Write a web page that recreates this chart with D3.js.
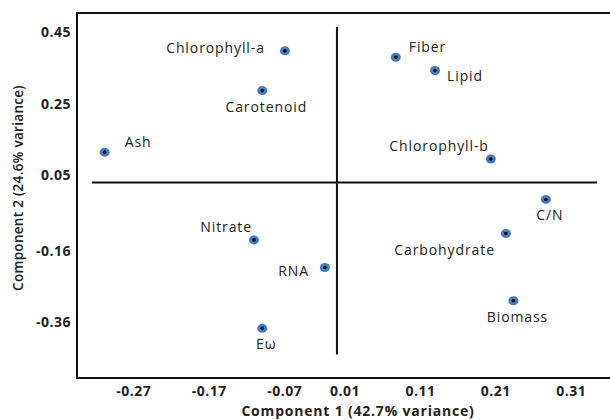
<!DOCTYPE html>
<html>
<head>
<meta charset="utf-8">
<script src="https://cdn.jsdelivr.net/npm/d3@7"></script>
<style>
  html, body { margin: 0; padding: 0; background: #fff; }
  svg { display: block; }
  text { font-family: "Open Sans", "DejaVu Sans", sans-serif; fill: #222; }
</style>
</head>
<body>
<svg id="chart" width="610" height="420"></svg>
<script>
// ---- data ----
const names = ["Chlorophyll-a", "Carotenoid", "Ash", "Fiber", "Lipid", "Chlorophyll-b",
               "C/N", "Nitrate", "E\u03C9", "RNA", "Carbohydrate", "Biomass"];
const pc1 = [-0.069, -0.099, -0.308, 0.078, 0.130, 0.204, 0.277, -0.110, -0.099, -0.016, 0.224, 0.234];
const pc2 = [0.398, 0.287, 0.115, 0.380, 0.343, 0.096, -0.017, -0.130, -0.377, -0.207, -0.112, -0.300];
// label placement keys (see "off" below)
const labelPos = ["l", "b", "ar", "a", "r", "al", "b", "al", "b", "lb", "bl", "b"];
const xTicks = [-0.27, -0.17, -0.07, 0.01, 0.11, 0.21, 0.31];
const yTicks = [0.45, 0.25, 0.05, -0.16, -0.36];
const xTitle = "Component 1 (42.7% variance)";
const yTitle = "Component 2  (24.6% variance)";
const crossX = 0.0;   // vertical reference line
const crossY = 0.03;  // horizontal reference line
const crossXExtent = [-0.325, 0.345];
const crossYExtent = [0.465, -0.45];

// ---- layout ----
const svg = d3.select("#chart");
const box = { left: 77, top: 13, right: 612, bottom: 378 };

const x = d3.scaleLinear().domain([0, 0.1]).range([336.95, 336.95 + 75.43]);
const y = d3.scaleLinear().domain([0, 0.1]).range([193.35, 193.35 - 35.81]);
const fmt = d => d.toFixed(2);

// frame
svg.append("rect")
  .attr("x", box.left).attr("y", box.top)
  .attr("width", box.right - box.left).attr("height", box.bottom - box.top)
  .attr("fill", "none").attr("stroke", "#111").attr("stroke-width", 2);

// axes (labels only)
const xAxis = d3.axisBottom(x).tickValues(xTicks).tickSize(0).tickPadding(0).tickFormat(fmt);
const gx = svg.append("g").attr("transform", `translate(0,${box.bottom + 8})`).call(xAxis);
gx.select(".domain").remove();
gx.selectAll("text").attr("font-size", 14).attr("font-weight", "bold").attr("letter-spacing", 0.5)
  .attr("font-family", "'Open Sans', sans-serif").attr("fill", "#222");

const yAxis = d3.axisLeft(y).tickValues(yTicks).tickSize(0).tickPadding(0).tickFormat(fmt);
const gy = svg.append("g").attr("transform", `translate(71,0)`).call(yAxis);
gy.select(".domain").remove();
gy.selectAll("text").attr("font-size", 14).attr("font-weight", "bold").attr("letter-spacing", 0.5)
  .attr("font-family", "'Open Sans', sans-serif").attr("fill", "#222");

// reference cross lines
svg.append("line")
  .attr("x1", x(crossXExtent[0])).attr("x2", x(crossXExtent[1]))
  .attr("y1", y(crossY)).attr("y2", y(crossY))
  .attr("stroke", "#111").attr("stroke-width", 2);
svg.append("line")
  .attr("x1", x(crossX)).attr("x2", x(crossX))
  .attr("y1", y(crossYExtent[0])).attr("y2", y(crossYExtent[1]))
  .attr("stroke", "#111").attr("stroke-width", 2);

// axis titles
svg.append("text").attr("x", 358).attr("y", 416).attr("text-anchor", "middle")
  .attr("font-size", 14).attr("font-weight", "bold").attr("letter-spacing", 0.8).text(xTitle);
svg.append("text").attr("transform", "translate(23,188) rotate(-90)")
  .attr("text-anchor", "middle").attr("font-size", 13.5).attr("font-weight", "600")
  .attr("letter-spacing", 0.3).text(yTitle);

// points
const data = names.map((n, i) => ({ name: n, x: pc1[i], y: pc2[i], pos: labelPos[i] }));
const pts = svg.append("g").selectAll("g").data(data).join("g")
  .attr("transform", d => `translate(${x(d.x)},${y(d.y)})`);
pts.append("ellipse").attr("rx", 5).attr("ry", 4.5).attr("fill", "#3f7dc4");
pts.append("circle").attr("r", 1.8).attr("fill", "#000");

const off = {
  l:  { dx: -20, dy: 2, anchor: "end" },
  lb: { dx: -16, dy: 9, anchor: "end" },
  r:  { dx: 12, dy: 10, anchor: "start" },
  b:  { dx: 4, dy: 21, anchor: "middle" },
  a:  { dx: 13, dy: -5, anchor: "start" },
  ar: { dx: 20, dy: -5, anchor: "start" },
  al: { dx: -2, dy: -8, anchor: "end" },
  bl: { dx: -11, dy: 22, anchor: "end" }
};
pts.append("text")
  .attr("x", d => off[d.pos].dx)
  .attr("y", d => off[d.pos].dy)
  .attr("text-anchor", d => off[d.pos].anchor)
  .attr("font-size", 14)
  .attr("letter-spacing", 0.9)
  .attr("fill", "#333")
  .text(d => d.name);
</script>
</body>
</html>
